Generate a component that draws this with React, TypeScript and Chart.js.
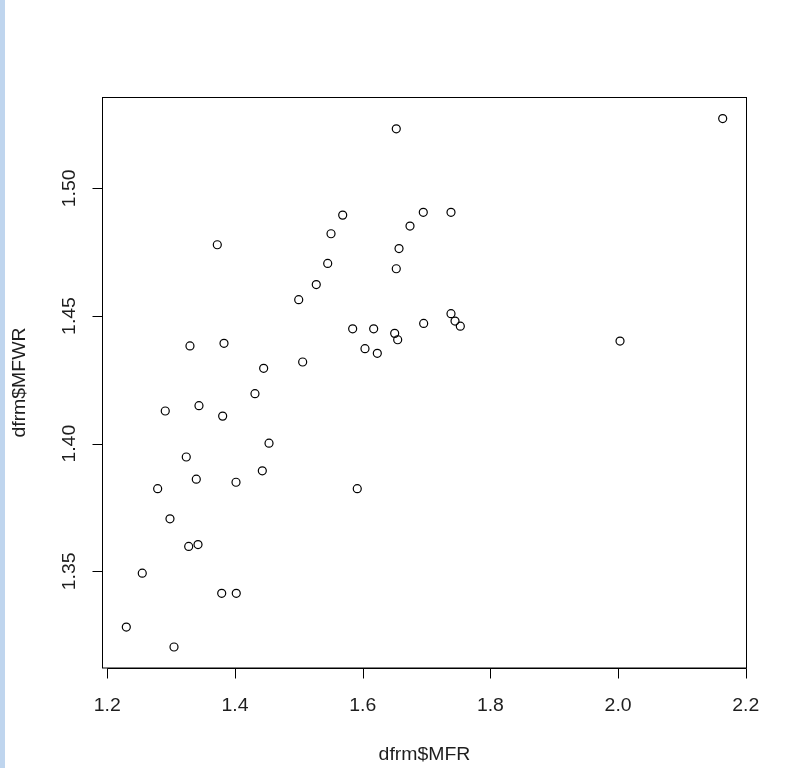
import React, { useEffect, useRef } from "react";
import { Chart, registerables } from "chart.js";

Chart.register(...registerables);

// dfrm$MFR values
const mfr: number[] = [
  1.6526, 2.1638, 1.3723, 1.5687, 1.5504, 1.5452, 1.5273, 1.6949, 1.7383, 1.6741,
  1.6569, 1.6526, 1.4998, 1.5843, 1.6172, 1.6501, 1.6548, 1.6036, 1.6229, 1.6955,
  1.7383, 1.7446, 1.7529, 2.003, 1.3295, 1.3828, 1.4449, 1.506, 1.4313, 1.2908,
  1.3436, 1.3807, 1.4533, 1.3237, 1.4428, 1.3394, 1.4016, 1.2789, 1.5915, 1.2982,
  1.3275, 1.3421, 1.2548, 1.3792, 1.402, 1.2298, 1.3045,
];
// dfrm$MFWR values
const mfwr: number[] = [
  1.5233, 1.5273, 1.4779, 1.4895, 1.4822, 1.4706, 1.4623, 1.4906, 1.4906, 1.4852,
  1.4764, 1.4685, 1.4564, 1.445, 1.445, 1.4432, 1.4407, 1.4372, 1.4354, 1.4471,
  1.4509, 1.448, 1.446, 1.4402, 1.4383, 1.4393, 1.4295, 1.432, 1.4196, 1.4128,
  1.4149, 1.4108, 1.4002, 1.3948, 1.3894, 1.3861, 1.3849, 1.3824, 1.3824, 1.3706,
  1.3598, 1.3605, 1.3493, 1.3414, 1.3414, 1.3282, 1.3204,
];

const xTicks: number[] = [1.2, 1.4, 1.6, 1.8, 2.0, 2.2];
const xTickLabels: string[] = ["1.2", "1.4", "1.6", "1.8", "2.0", "2.2"];
const yTicks: number[] = [1.35, 1.4, 1.45, 1.5];
const yTickLabels: string[] = ["1.35", "1.40", "1.45", "1.50"];
const xTitle = "dfrm$MFR";
const yTitle = "dfrm$MFWR";

const xMin = 1.1933;
const xMax = 2.2003;
const yMin = 1.31218;
const yMax = 1.53575;

const FONT = '18px "Liberation Sans", Arial, sans-serif';
const TEXT_COLOR = "#1e1e1e";
const STRETCH = 1.08;

function drawText(ctx: CanvasRenderingContext2D, text: string, x: number, y: number, angle: number) {
  ctx.save();
  ctx.translate(x, y);
  if (angle) ctx.rotate(angle);
  ctx.scale(STRETCH, 1);
  ctx.fillText(text, 0, 0);
  ctx.restore();
}

const rPlotPlugin = {
  id: "rPlot",
  afterDraw(chart: any) {
    const ctx: CanvasRenderingContext2D = chart.ctx;
    const area = chart.chartArea;
    const xs = chart.scales.x;
    const ys = chart.scales.y;
    const tick = 10;
    ctx.save();
    ctx.strokeStyle = "#000000";
    ctx.lineWidth = 1;
    // box
    ctx.strokeRect(
      Math.round(area.left) - 0.5,
      Math.round(area.top) + 0.5,
      Math.round(area.right) - Math.round(area.left) + 1,
      Math.round(area.bottom) - Math.round(area.top) - 0.5
    );
    // x axis
    const bottom = Math.round(area.bottom) + 0.5;
    const x0 = Math.round(xs.getPixelForValue(xTicks[0])) + 0.5;
    const x1 = Math.round(xs.getPixelForValue(xTicks[xTicks.length - 1])) + 0.5;
    ctx.beginPath();
    ctx.moveTo(x0, bottom);
    ctx.lineTo(x1, bottom);
    xTicks.forEach((v) => {
      const px = Math.round(xs.getPixelForValue(v)) + 0.5;
      ctx.moveTo(px, bottom);
      ctx.lineTo(px, bottom + tick);
    });
    ctx.stroke();
    // y axis
    const left = Math.round(area.left) - 0.5;
    const y0 = Math.round(ys.getPixelForValue(yTicks[0])) + 0.5;
    const y1 = Math.round(ys.getPixelForValue(yTicks[yTicks.length - 1])) + 0.5;
    ctx.beginPath();
    ctx.moveTo(left, y0);
    ctx.lineTo(left, y1);
    yTicks.forEach((v) => {
      const py = Math.round(ys.getPixelForValue(v)) + 0.5;
      ctx.moveTo(left, py);
      ctx.lineTo(left - tick, py);
    });
    ctx.stroke();

    // labels
    ctx.fillStyle = TEXT_COLOR;
    ctx.font = FONT;
    ctx.textAlign = "center";
    ctx.textBaseline = "alphabetic";
    xTicks.forEach((v, i) => {
      drawText(ctx, xTickLabels[i], xs.getPixelForValue(v), 711, 0);
    });
    drawText(ctx, xTitle, (area.left + area.right) / 2, 760, 0);

    yTicks.forEach((v, i) => {
      drawText(ctx, yTickLabels[i], 75, ys.getPixelForValue(v), -Math.PI / 2);
    });
    drawText(ctx, yTitle, 25, (area.top + area.bottom) / 2, -Math.PI / 2);
    ctx.restore();
  },
};

export default function App() {
  const canvasRef = useRef<HTMLCanvasElement | null>(null);

  useEffect(() => {
    if (!canvasRef.current) return;
    const data = mfr.map((x, i) => ({ x, y: mfwr[i] }));
    const chart = new Chart(canvasRef.current, {
      type: "scatter",
      data: {
        datasets: [
          {
            data,
            pointStyle: "circle",
            pointRadius: 4,
            pointBorderWidth: 1.2,
            pointBorderColor: "#000000",
            pointBackgroundColor: "rgba(0,0,0,0)",
          },
        ],
      },
      options: {
        animation: false,
        responsive: false,
        devicePixelRatio: 1,
        layout: { padding: { left: 103, right: 39, top: 97, bottom: 100 } },
        scales: {
          x: { type: "linear", min: xMin, max: xMax, display: false },
          y: { type: "linear", min: yMin, max: yMax, display: false },
        },
        plugins: {
          legend: { display: false },
          tooltip: { enabled: false },
        },
      },
      plugins: [rPlotPlugin],
    });
    return () => chart.destroy();
  }, []);

  return (
    <div style={{ position: "fixed", left: 0, top: 0, width: 785, height: 768, background: "#ffffff" }}>
      <div style={{ position: "absolute", left: 0, top: 0, width: 5, height: 768, background: "#bfd5ee" }} />
      <canvas ref={canvasRef} width={785} height={768} style={{ position: "absolute", left: 0, top: 0 }} />
    </div>
  );
}
